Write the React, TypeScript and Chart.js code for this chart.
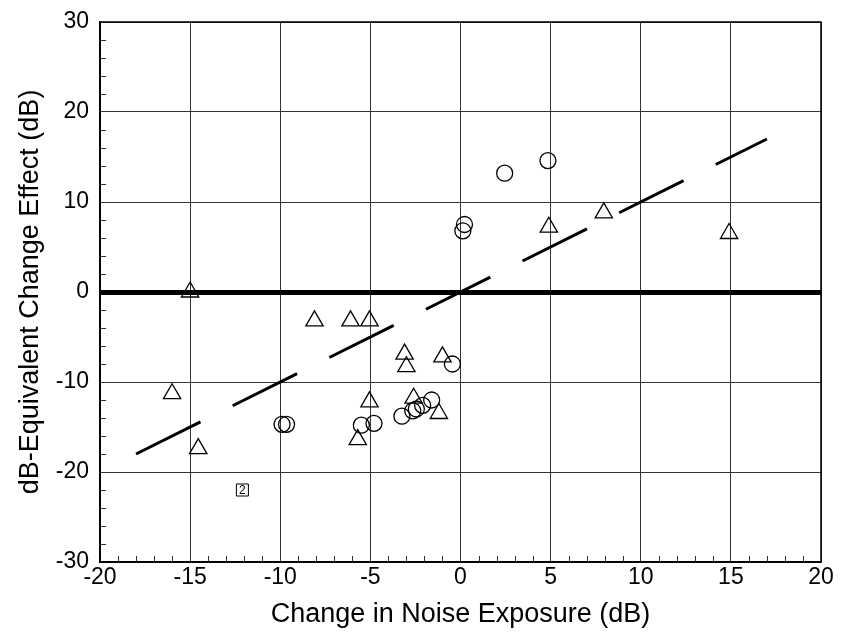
import React, { useEffect, useRef } from 'react';
import { Chart, registerables } from 'chart.js';

Chart.register(...registerables);

// Axis ticks
const xTickValues = [-20, -15, -10, -5, 0, 5, 10, 15, 20];
const yTickValues = [-30, -20, -10, 0, 10, 20, 30];
const xMinorStep = 1;
const yMinorStep = 2;

// Triangle series
const triangleX = [-15.0, -16.0, -14.55, -8.1, -6.1, -5.05, -5.05, -5.7, -3.1, -3.0, -1.0, -2.6, -1.2, 4.9, 7.95, 14.9];
const triangleY = [0.0, -11.3, -17.4, -3.2, -3.2, -3.2, -12.2, -16.4, -6.9, -8.3, -7.2, -11.8, -13.5, 7.2, 8.8, 6.5];

// Circle series
const circleX = [-9.9, -9.65, -5.5, -4.8, -3.25, -2.65, -2.45, -2.1, -1.6, -0.45, 0.13, 0.22, 2.45, 4.85];
const circleY = [-14.7, -14.7, -14.8, -14.6, -13.8, -13.2, -13.0, -12.6, -12.0, -8.0, 6.8, 7.5, 13.2, 14.6];

// Dashed trend line
const trendX = [-18, 17];
const trendY = [-18, 17];

// Boxed note
const noteX = [-12.1];
const noteY = [-22];
const noteText = ['2'];

const FONT = "'Liberation Sans', Arial, Helvetica, sans-serif";

const toPoints = (xs: number[], ys: number[]) => xs.map((x, i) => ({ x, y: ys[i] }));

const decorPlugin = {
  id: 'decor',
  afterDatasetsDraw(chart: any) {
    const { ctx, chartArea, scales } = chart;
    const xs = scales.x;
    const ys = scales.y;
    ctx.save();
    ctx.strokeStyle = '#333';
    ctx.lineWidth = 1;
    // minor ticks bottom
    for (let v = xs.min; v <= xs.max; v += xMinorStep) {
      if (xTickValues.includes(v)) continue;
      const px = Math.round(xs.getPixelForValue(v)) + 0.5;
      ctx.beginPath();
      ctx.moveTo(px, chartArea.bottom);
      ctx.lineTo(px, chartArea.bottom - 6);
      ctx.stroke();
    }
    // minor ticks left
    for (let v = ys.min; v <= ys.max; v += yMinorStep) {
      if (yTickValues.includes(v)) continue;
      const py = Math.round(ys.getPixelForValue(v)) + 0.5;
      ctx.beginPath();
      ctx.moveTo(chartArea.left, py);
      ctx.lineTo(chartArea.left + 6, py);
      ctx.stroke();
    }
    // frame
    ctx.strokeStyle = '#000';
    ctx.lineWidth = 1.5;
    ctx.strokeRect(chartArea.left, chartArea.top, chartArea.right - chartArea.left, chartArea.bottom - chartArea.top);
    // note text
    ctx.fillStyle = '#000';
    ctx.font = `12px ${FONT}`;
    ctx.textAlign = 'center';
    ctx.textBaseline = 'middle';
    noteText.forEach((t, i) => {
      ctx.fillText(t, xs.getPixelForValue(noteX[i]), ys.getPixelForValue(noteY[i]) + 0.5);
    });
    ctx.restore();
  },
};

export default function App() {
  const ref = useRef<HTMLCanvasElement | null>(null);
  useEffect(() => {
    document.body.style.margin = '0';
    const canvas = ref.current;
    if (!canvas) return;
    const chart = new Chart(canvas, {
      type: 'scatter',
      data: {
        datasets: [
          {
            type: 'line',
            label: 'trend',
            data: toPoints(trendX, trendY),
            borderColor: '#000',
            borderWidth: 3,
            borderDash: [72, 36],
            pointRadius: 0,
            fill: false,
          } as any,
          {
            label: 'triangles',
            data: toPoints(triangleX, triangleY),
            pointStyle: 'triangle',
            pointRadius: 10,
            pointHoverRadius: 10,
            borderColor: '#000',
            borderWidth: 1.3,
            backgroundColor: 'rgba(0,0,0,0)',
          },
          {
            label: 'circles',
            data: toPoints(circleX, circleY),
            pointStyle: 'circle',
            pointRadius: 8,
            pointHoverRadius: 8,
            borderColor: '#000',
            borderWidth: 1.3,
            backgroundColor: 'rgba(0,0,0,0)',
          },
          {
            label: 'note',
            data: toPoints(noteX, noteY),
            pointStyle: 'rect',
            pointRadius: 8.5,
            pointHoverRadius: 8.5,
            borderColor: '#000',
            borderWidth: 1,
            backgroundColor: '#fff',
          },
        ],
      },
      options: {
        responsive: false,
        animation: false,
        events: [],
        layout: { padding: { top: 22, right: 20, left: 0, bottom: 0 } },
        plugins: {
          legend: { display: false },
          tooltip: { enabled: false },
        },
        scales: {
          x: {
            type: 'linear',
            min: -20,
            max: 20,
            afterFit: (s: any) => { s.height = 78; s.paddingLeft = 0; s.paddingRight = 0; },
            afterBuildTicks: (s: any) => { s.ticks = xTickValues.map((v) => ({ value: v })); },
            grid: { color: '#333', lineWidth: 1, drawTicks: false },
            border: { display: true, color: '#000', width: 1.5 },
            ticks: { color: '#000', padding: 2, font: { family: FONT, size: 23 }, maxRotation: 0 },
            title: {
              display: true,
              text: 'Change in Noise Exposure (dB)',
              color: '#000',
              font: { family: FONT, size: 27 },
              padding: { top: 0, bottom: 9 },
            },
          },
          y: {
            type: 'linear',
            min: -30,
            max: 30,
            afterFit: (s: any) => { s.width = 100; s.paddingTop = 0; s.paddingBottom = 0; },
            afterBuildTicks: (s: any) => { s.ticks = yTickValues.map((v) => ({ value: v })); },
            grid: {
              color: (c: any) => (c.tick && c.tick.value === 0 ? '#000' : '#333'),
              lineWidth: (c: any) => (c.tick && c.tick.value === 0 ? 5 : 1),
              drawTicks: false,
            },
            border: { display: true, color: '#000', width: 1.5 },
            ticks: { color: '#000', padding: 11, font: { family: FONT, size: 23 } },
            title: {
              display: true,
              text: 'dB-Equivalent Change Effect (dB)',
              color: '#000',
              font: { family: FONT, size: 27 },
              padding: { top: 14, bottom: 0 },
            },
          },
        },
      },
      plugins: [decorPlugin],
    });
    return () => chart.destroy();
  }, []);
  return (
    <div style={{ width: 841, height: 640 }}>
      <canvas ref={ref} width={841} height={640} style={{ display: 'block' }} />
    </div>
  );
}
